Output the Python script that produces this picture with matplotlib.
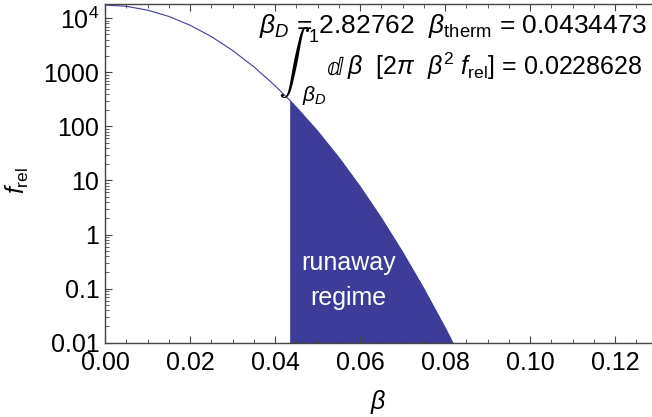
import numpy as np
import matplotlib
matplotlib.use("Agg")
import matplotlib.pyplot as plt
from matplotlib.ticker import FixedLocator, NullFormatter, FixedFormatter, LogLocator

plt.rcParams['font.family'] = ['Liberation Sans', 'DejaVu Sans']
plt.rcParams['mathtext.fontset'] = 'custom'
plt.rcParams['mathtext.rm'] = 'Liberation Sans'
plt.rcParams['mathtext.it'] = 'Liberation Sans:italic'
plt.rcParams['mathtext.bf'] = 'Liberation Sans:bold'

# values
beta_vals = [0.0, 0.005, 0.01, 0.015, 0.02, 0.025, 0.03, 0.035, 0.04,
             0.0434473, 0.045, 0.05, 0.055, 0.06, 0.065, 0.07, 0.075, 0.08, 0.085]
f_rel_vals = [17500, 16600, 14100, 10800, 7420, 4580, 2540, 1265, 566,
              305, 227, 82, 26.6, 7.76, 2.03, 0.477, 0.1006, 0.0191, 0.00325]
beta_D = 0.0434473

x_ticks = [0.00, 0.02, 0.04, 0.06, 0.08, 0.10, 0.12]
x_ticklabels = ["0.00", "0.02", "0.04", "0.06", "0.08", "0.10", "0.12"]
y_ticks = [0.01, 0.1, 1, 10, 100, 1000, 10000]
y_ticklabels = ["0.01", "0.1", "1", "10", "100", "1000", r"$\mathregular{10^4}$"]

color = "#3d3d99"
fs = 18

W, H = 652, 417
fig = plt.figure(figsize=(W / 100, H / 100), dpi=100)
ax = fig.add_axes([105 / W, 1 - 342.7 / H, 1 - 105 / W, (342.7 - 4) / H])

b = np.array(beta_vals)
f = np.array(f_rel_vals)
mask = b >= beta_D
ax.fill_between(b[mask], f[mask], 1e-4, color=color, linewidth=0)
ax.plot(b, f, color=color, lw=0.8)

ax.set_yscale('log')
ax.set_xlim(0, 0.1287)
ax.set_ylim(0.01, 18300)

ax.xaxis.set_major_locator(FixedLocator(x_ticks))
ax.xaxis.set_major_formatter(FixedFormatter(x_ticklabels))
ax.xaxis.set_minor_locator(FixedLocator(np.arange(0, 0.13, 0.005)))
ax.yaxis.set_major_locator(FixedLocator(y_ticks))
ax.yaxis.set_major_formatter(FixedFormatter(y_ticklabels))
ax.yaxis.set_minor_locator(LogLocator(base=10, subs=np.arange(2, 10)))
ax.yaxis.set_minor_formatter(NullFormatter())

spine_col = "#444444"
for s in ['left', 'bottom', 'top']:
    ax.spines[s].set_color(spine_col)
    ax.spines[s].set_linewidth(1.0)
ax.spines['right'].set_visible(False)

ax.tick_params(axis='both', which='both', direction='in', colors=spine_col,
               labelcolor='black', labelsize=fs)
ax.tick_params(axis='x', which='both', top=True, bottom=True)
ax.tick_params(axis='y', which='both', left=True, right=False)
ax.tick_params(which='major', length=5, width=0.8)
ax.tick_params(which='minor', length=3, width=0.6)
ax.tick_params(axis='x', pad=6)
ax.tick_params(axis='y', pad=4)

ax.set_xlabel(r"$\beta$", fontsize=fs, labelpad=9)
fig.text(17 / W, 1 - 180 / H, r"$f_{\mathrm{rel}}$", rotation=90, fontsize=fs,
         ha='center', va='center')

# annotations
fig.text(647 / W, 1 - 32.5 / H,
         r"$\beta_D$ = 2.82762  $\beta_{\mathrm{therm}}$ = 0.0434473",
         fontsize=19, ha='right', va='baseline')
line2 = fig.text(642 / W, 1 - 75 / H,
                 r"$\beta$  [2$\pi$  $\beta^2$ $f_{\mathrm{rel}}$] = 0.0228628",
                 fontsize=fs, ha='right', va='baseline')
fig.canvas.draw()
bb = line2.get_window_extent()
fig.text((bb.x0 - 3) / W, 1 - 75 / H, "ⅆ", family=['DejaVu Sans'], fontsize=fs - 1,
         ha='right', va='baseline')

fig.text(294 / W, 1 - 62.5 / H, r"$\int$", math_fontfamily='cm', fontsize=23,
         ha='center', va='center')
fig.text(309 / W, 1 - 42 / H, "1", fontsize=13, ha='left', va='baseline')
fig.text(302 / W, 1 - 101 / H, r"$\beta_D$", fontsize=15, ha='left', va='baseline')

ax.text(0.0572, 0.222, "runaway", color='white', fontsize=fs, ha='center', va='baseline')
ax.text(0.0572, 0.05, "regime", color='white', fontsize=fs, ha='center', va='baseline')

fig.savefig("out.png", dpi=100)
